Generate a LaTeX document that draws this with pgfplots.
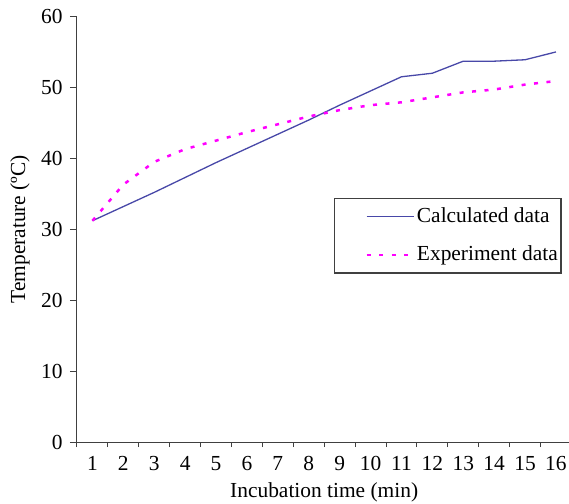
\documentclass[border=0pt]{standalone}
\usepackage{fontspec}
\setmainfont{Liberation Serif}
\usepackage{pgfplots}
\pgfplotsset{compat=1.18}
\definecolor{calcblue}{RGB}{72,72,168}
\definecolor{expmag}{RGB}{255,0,255}
\newcommand{\chartfont}{\fontsize{21.5}{25}\selectfont}
\begin{document}
\chartfont
\begin{tikzpicture}
\begin{axis}[
    scale only axis,
    width=494.4bp, height=425.5bp,
    xmin=0.5, xmax=16.5,
    ymin=0, ymax=60,
    axis lines=left,
    axis line style={-, line width=1bp, black!75},
    xtick={1,...,16},
    minor xtick={0.5,1.5,...,16.5},
    major x tick style={draw=none},
    ytick={0,10,...,60},
    tick align=outside,
    tick style={black!75, line width=1bp},
    major tick length=7bp,
    minor tick length=5bp,
    /pgf/number format/assume math mode=true,
    ticklabel style={font=\chartfont},
    xlabel={Incubation time (min)},
    ylabel={Temperature (ºC)},
    label style={font=\chartfont},
    xlabel style={yshift=3bp},
    ylabel style={yshift=-3bp},
    legend cell align=left,
    legend style={at={(0.980,0.573)}, anchor=north east,
        draw=black!75, line width=1.2bp,
        font=\chartfont,
        row sep=16bp, inner xsep=1bp, inner ysep=7bp,
        nodes={inner xsep=2bp}},
    legend image code/.code={\path (0bp,0bp); \draw[#1] (30bp,0bp) -- (77bp,0bp);},
]

% calculated data
\addplot[calcblue, line width=1.3bp, no marks]
table {
1  31.2
2  33.2
3  35.2
4  37.3
5  39.4
6  41.4
7  43.4
8  45.4
9  47.5
10 49.5
11 51.5
12 52.0
13 53.7
14 53.7
15 53.9
16 55.0
};
\addlegendentry{Calculated data}

% experiment data
\addplot[expmag, line width=2.5bp, dash pattern=on 4bp off 8.5bp, no marks]
table {
1  31.2
2  36.3
3  39.5
4  41.3
5  42.5
6  43.7
7  44.8
8  45.9
9  46.8
10 47.5
11 47.9
12 48.6
13 49.3
14 49.7
15 50.4
16 50.9
};
\addlegendentry{Experiment data}

\end{axis}
\pgfresetboundingbox
\path (-77bp,-62bp) rectangle (492bp,442bp);
\end{tikzpicture}
\end{document}
